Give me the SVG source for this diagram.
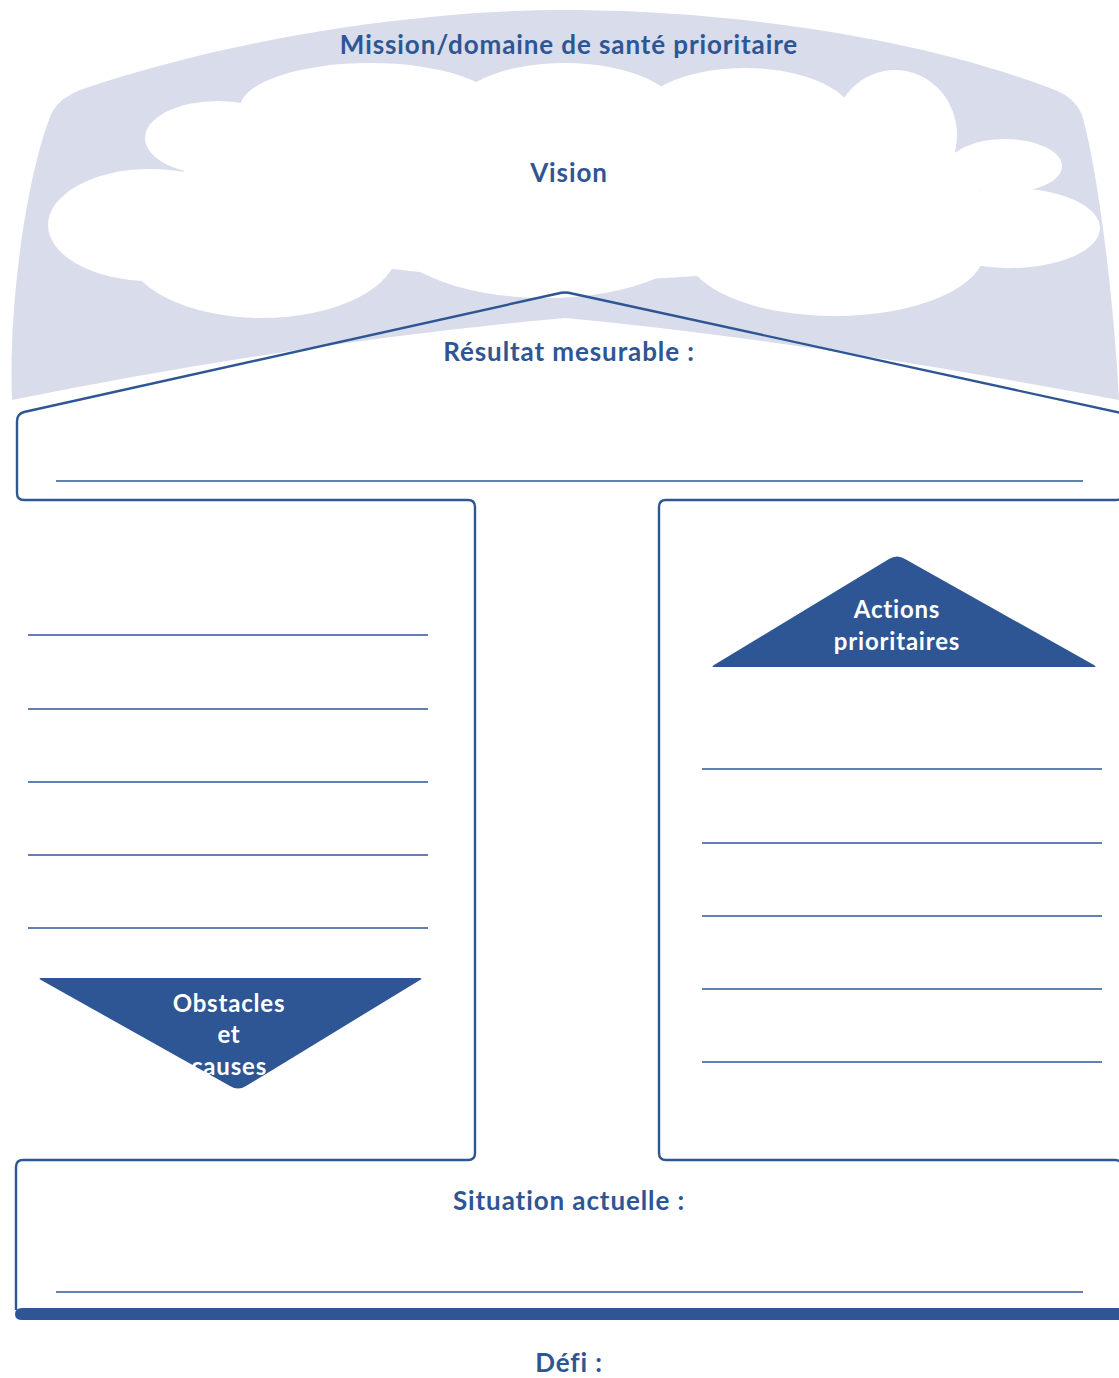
<svg xmlns="http://www.w3.org/2000/svg" width="1119" height="1378" viewBox="0 0 1119 1378">
<style>
.ln{stroke:#2E5694;stroke-width:1.3;fill:none}
.bx{stroke:#2E5694;stroke-width:2.4;fill:none;stroke-linejoin:round}
.t{font-family:Lato,"Open Sans","Liberation Sans",sans-serif;font-weight:bold;fill:#2E5694;text-anchor:middle;letter-spacing:0.9px}
.tw{font-family:Lato,"Open Sans","Liberation Sans",sans-serif;font-weight:bold;fill:#FFFFFF;text-anchor:middle;font-size:24px;letter-spacing:0.8px}
.cl{fill:#FFFFFF}
</style>
<rect width="1119" height="1378" fill="#FFFFFF"/>
<g id="mission">
<path d="M12,400 C8,300 28,170 52,112 Q60,98 80,90 C250,32 440,10 565,10 C700,10 900,30 1055,90 Q1075,98 1082,115 C1098,170 1114,300 1119,400 L1119,400 Q800,340 565,318 Q300,342 12,400 Z" fill="#D9DCEB"/>
<text class="t" x="569" y="54" font-size="26">Mission/domaine de santé prioritaire</text>
</g>
<g id="vision">
<ellipse class="cl" cx="150" cy="225" rx="102" ry="56"/>
<ellipse class="cl" cx="218" cy="138" rx="73" ry="37"/>
<ellipse class="cl" cx="370" cy="108" rx="130" ry="45"/>
<ellipse class="cl" cx="565" cy="115" rx="115" ry="52"/>
<ellipse class="cl" cx="745" cy="120" rx="110" ry="52"/>
<ellipse class="cl" cx="895" cy="135" rx="62" ry="65"/>
<ellipse class="cl" cx="1005" cy="166" rx="57" ry="27"/>
<ellipse class="cl" cx="1010" cy="228" rx="90" ry="40"/>
<ellipse class="cl" cx="835" cy="250" rx="150" ry="66"/>
<ellipse class="cl" cx="545" cy="228" rx="160" ry="70"/>
<ellipse class="cl" cx="262" cy="250" rx="135" ry="68"/>
<ellipse class="cl" cx="580" cy="185" rx="400" ry="95"/>
<text class="t" x="569" y="182" font-size="26">Vision</text>
</g>
<g id="connectors"></g>
<g id="resultat">
<path class="bx" d="M1121,413 L572,293.5 Q565,291.5 558,293.5 L24,412 Q17,414 17,421 L17,493 Q17,500 24,500 L468,500"/>
<line class="ln" x1="56" y1="481" x2="1083" y2="481"/>
<text class="t" x="569" y="361" font-size="26">Résultat mesurable :</text>
</g>
<g id="obstacles">
<path class="bx" d="M468,500 Q475,500 475,507 L475,1153 Q475,1160 468,1160"/>
<line class="ln" x1="28" y1="635" x2="428" y2="635"/>
<line class="ln" x1="28" y1="709" x2="428" y2="709"/>
<line class="ln" x1="28" y1="782" x2="428" y2="782"/>
<line class="ln" x1="28" y1="855" x2="428" y2="855"/>
<line class="ln" x1="28" y1="928" x2="428" y2="928"/>
<path d="M41,978 L420,978 Q423,978 420,980 L246,1086 Q238,1091 230,1086 L41,980 Q38,978 41,978 Z" fill="#2E5694"/>
<text class="tw" x="229" y="1012">Obstacles</text>
<text class="tw" x="229" y="1043">et</text>
<text class="tw" x="229" y="1075">causes</text>
</g>
<g id="actions">
<path class="bx" d="M1121,497 Q1120,500 1116,500 L666,500 Q659,500 659,507 L659,1153 Q659,1160 666,1160 L1115,1160 Q1119,1160 1121,1163"/>
<path d="M714,667 L1094,667 Q1097,667 1094,665 L905,559 Q897,554 889,559 L714,665 Q711,667 714,667 Z" fill="#2E5694"/>
<text class="tw" x="897" y="618">Actions</text>
<text class="tw" x="897" y="650">prioritaires</text>
<line class="ln" x1="702" y1="769" x2="1102" y2="769"/>
<line class="ln" x1="702" y1="843" x2="1102" y2="843"/>
<line class="ln" x1="702" y1="916" x2="1102" y2="916"/>
<line class="ln" x1="702" y1="989" x2="1102" y2="989"/>
<line class="ln" x1="702" y1="1062" x2="1102" y2="1062"/>
</g>
<g id="situation">
<path class="bx" d="M468,1160 L23,1160 Q16,1160 16,1167 L16,1310"/>
<line class="ln" x1="56" y1="1292" x2="1083" y2="1292"/>
<path d="M22,1308 L1119,1308 L1119,1320 L22,1320 Q15,1320 15,1314 Q15,1308 22,1308 Z" fill="#2E5694"/>
<text class="t" x="569" y="1210" font-size="26">Situation actuelle :</text>
</g>
<g id="defi">
<text class="t" x="569" y="1372" font-size="26">Défi :</text>
</g>
</svg>
